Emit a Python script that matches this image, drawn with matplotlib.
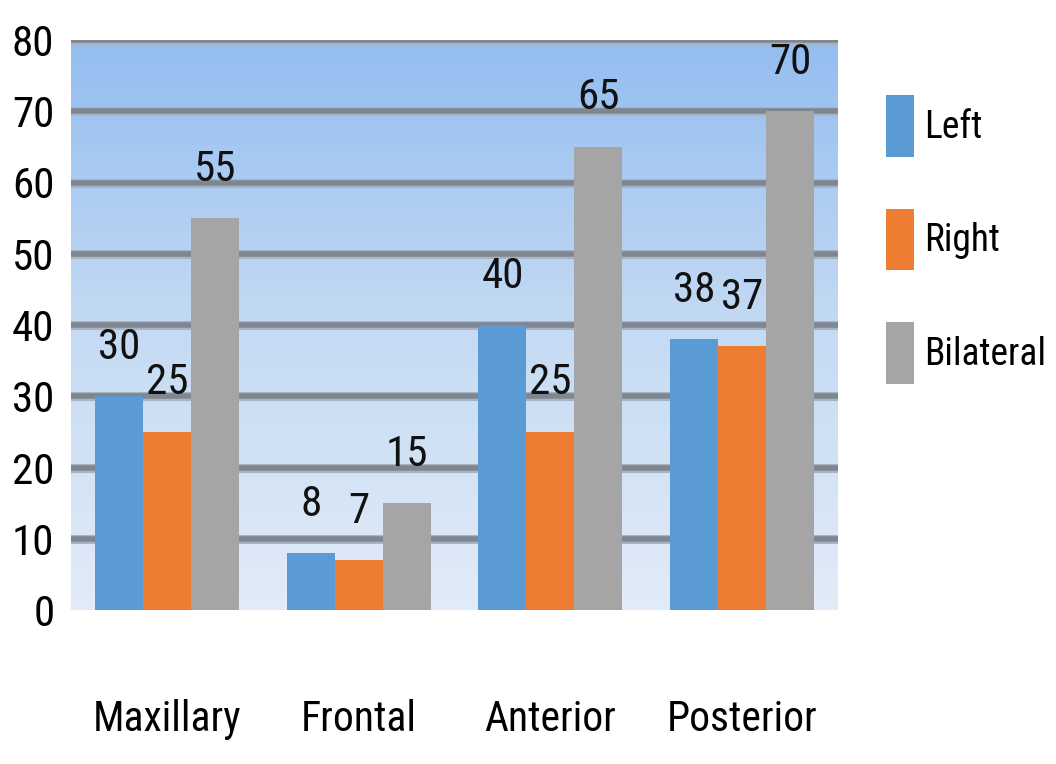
import matplotlib
matplotlib.use("Agg")
import matplotlib.pyplot as plt
import numpy as np
from matplotlib import font_manager
from matplotlib.colors import LinearSegmentedColormap

# Data
categories = ["Maxillary", "Frontal", "Anterior", "Posterior"]
series_names = ["Left", "Right", "Bilateral"]
left_vals = [30, 8, 40, 38]
right_vals = [25, 7, 25, 37]
bilateral_vals = [55, 15, 65, 70]
y_ticks = [0, 10, 20, 30, 40, 50, 60, 70, 80]

colors = ["#5b9bd5", "#ed7d31", "#a5a5a5"]

# Pick the narrowest installed sans family
installed = {f.name for f in font_manager.fontManager.ttflist}
family = "DejaVu Sans"
for cand in ["Liberation Sans Narrow", "DejaVu Sans Condensed", "Roboto Condensed",
             "Open Sans Condensed", "Liberation Sans"]:
    if cand in installed:
        family = cand
        break
plt.rcParams["font.family"] = family

NUM_FS = 31
WORD_FS = 30
LEG_FS = 27

fig = plt.figure(figsize=(10.56, 7.64), dpi=100)
ax = fig.add_axes([71 / 1056, 154 / 764, 767 / 1056, 570 / 764])

# Vertical blue gradient behind the plot
grad = np.linspace(0, 1, 256).reshape(-1, 1)
cmap = LinearSegmentedColormap.from_list("bg", ["#e2ecf8", "#c4daf3", "#93bdf0"])
ax.imshow(grad, cmap=cmap, origin="lower", aspect="auto",
          extent=[0, 1, 0, 1], transform=ax.transAxes, zorder=0)

# Thick horizontal gridlines with a soft halo
for yv in y_ticks[1:]:
    ax.axhline(yv, color="#a9b4c2", lw=6.5, zorder=1)
    ax.axhline(yv, color="#7e8791", lw=4.0, zorder=1.1)

x = np.arange(len(categories))
width = 0.25
all_vals = [left_vals, right_vals, bilateral_vals]
for i, (name, vals, c) in enumerate(zip(series_names, all_vals, colors)):
    pos = x + (i - 1) * width
    ax.bar(pos, vals, width=width, color=c, label=name, zorder=2)
    for xp, v in zip(pos, vals):
        ax.text(xp, v + 4.0, f"{v}", ha="center", va="bottom",
                fontsize=NUM_FS, color="#111111", zorder=3, clip_on=False)

ax.set_xlim(-0.5, 3.5)
ax.set_ylim(0, 80)
ax.set_yticks(y_ticks)
ax.set_yticklabels([str(t) for t in y_ticks], fontsize=NUM_FS)
ax.set_xticks(x)
ax.set_xticklabels(categories, fontsize=WORD_FS)
ax.tick_params(axis="both", length=0)
ax.tick_params(axis="y", pad=12)
ax.tick_params(axis="x", pad=64)
for s in ax.spines.values():
    s.set_visible(False)

leg = ax.legend(loc="upper left", bbox_to_anchor=(1.062, 0.9035), frameon=False,
                fontsize=LEG_FS, handlelength=0.75, handleheight=2.16,
                handletextpad=0.27, labelspacing=1.38, borderaxespad=0,
                borderpad=0)

fig.savefig("out.png", dpi=100)
